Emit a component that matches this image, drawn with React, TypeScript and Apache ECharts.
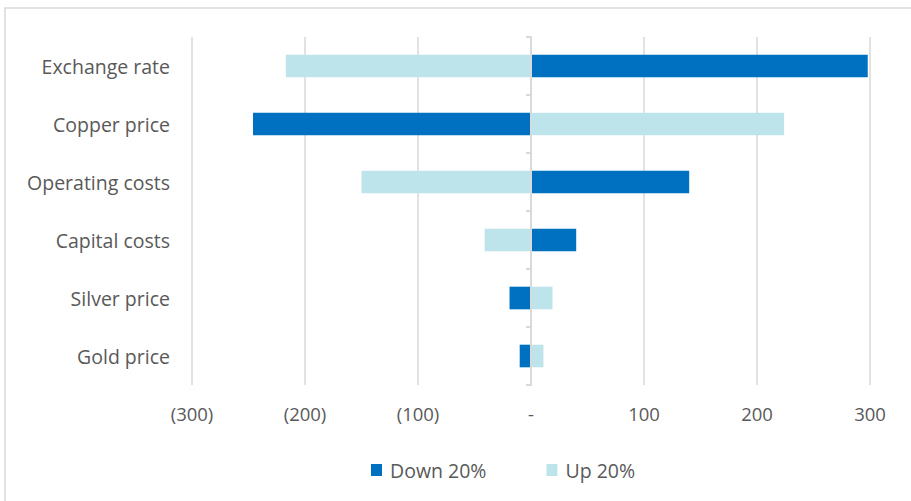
import React, { useEffect, useRef } from "react";
import * as echarts from "echarts";

const categories = [
  "Exchange rate",
  "Copper price",
  "Operating costs",
  "Capital costs",
  "Silver price",
  "Gold price",
];
const down20 = [298, -246, 140, 40, -19, -10];
const up20 = [-217, 224, -150, -41, 19, 11];
const seriesNames = ["Down 20%", "Up 20%"];

const FONT = "'Open Sans', sans-serif";
const TEXT = "#595959";
const GRID = "#d9d9d9";

export default function App() {
  const ref = useRef<HTMLDivElement>(null);
  useEffect(() => {
    if (!ref.current) return;
    const chart = echarts.init(ref.current, undefined, { renderer: "svg" });
    chart.setOption({
      animation: false,
      textStyle: { fontFamily: FONT },
      graphic: [
        {
          type: "rect",
          shape: { x: 5, y: 8, width: 1200, height: 1200 },
          style: { fill: "none", stroke: GRID, lineWidth: 1.5 },
          silent: true,
        },
      ],
      grid: { left: 192, right: 41, top: 37, bottom: 116 },
      legend: {
        data: seriesNames,
        left: 366,
        top: 455,
        itemWidth: 11,
        itemHeight: 12,
        itemGap: 60,
        icon: "rect",
        textStyle: {
          color: TEXT,
          fontSize: 19.5,
          fontFamily: FONT,
          padding: [0, 0, 0, 3],
        },
      },
      xAxis: {
        type: "value",
        min: -300,
        max: 300,
        interval: 100,
        axisLine: { show: false },
        axisTick: { show: false },
        splitLine: { show: true, lineStyle: { color: GRID, width: 1.5 } },
        axisLabel: {
          color: TEXT,
          fontSize: 18.5,
          fontFamily: FONT,
          margin: 19,
          formatter: (v: number) =>
            v < 0 ? `(${Math.abs(v)})` : v === 0 ? "-" : `${v}`,
        },
      },
      yAxis: [
        {
          type: "category",
          data: categories,
          inverse: true,
          position: "left",
          axisLine: { show: false, onZero: false },
          axisTick: { show: false },
          axisLabel: {
            color: TEXT,
            fontSize: 19.5,
            fontFamily: FONT,
            margin: 22,
          },
        },
        {
          type: "category",
          data: categories,
          inverse: true,
          position: "left",
          z: 5,
          axisLine: {
            show: true,
            onZero: true,
            lineStyle: { color: GRID, width: 2 },
          },
          axisTick: {
            show: true,
            length: 5,
            lineStyle: { color: GRID, width: 2 },
          },
          axisLabel: { show: false },
        },
      ],
      series: [
        {
          name: seriesNames[0],
          type: "bar",
          stack: "total",
          yAxisIndex: 0,
          data: down20,
          barWidth: "39%",
          itemStyle: { color: "#0070C0" },
        },
        {
          name: seriesNames[1],
          type: "bar",
          stack: "total",
          yAxisIndex: 0,
          data: up20,
          barWidth: "39%",
          itemStyle: { color: "#BEE4EB" },
        },
      ],
    });
    return () => chart.dispose();
  }, []);
  return (
    <div
      ref={ref}
      style={{ position: "fixed", left: 0, top: 0, width: 911, height: 501, background: "#fff" }}
    />
  );
}
